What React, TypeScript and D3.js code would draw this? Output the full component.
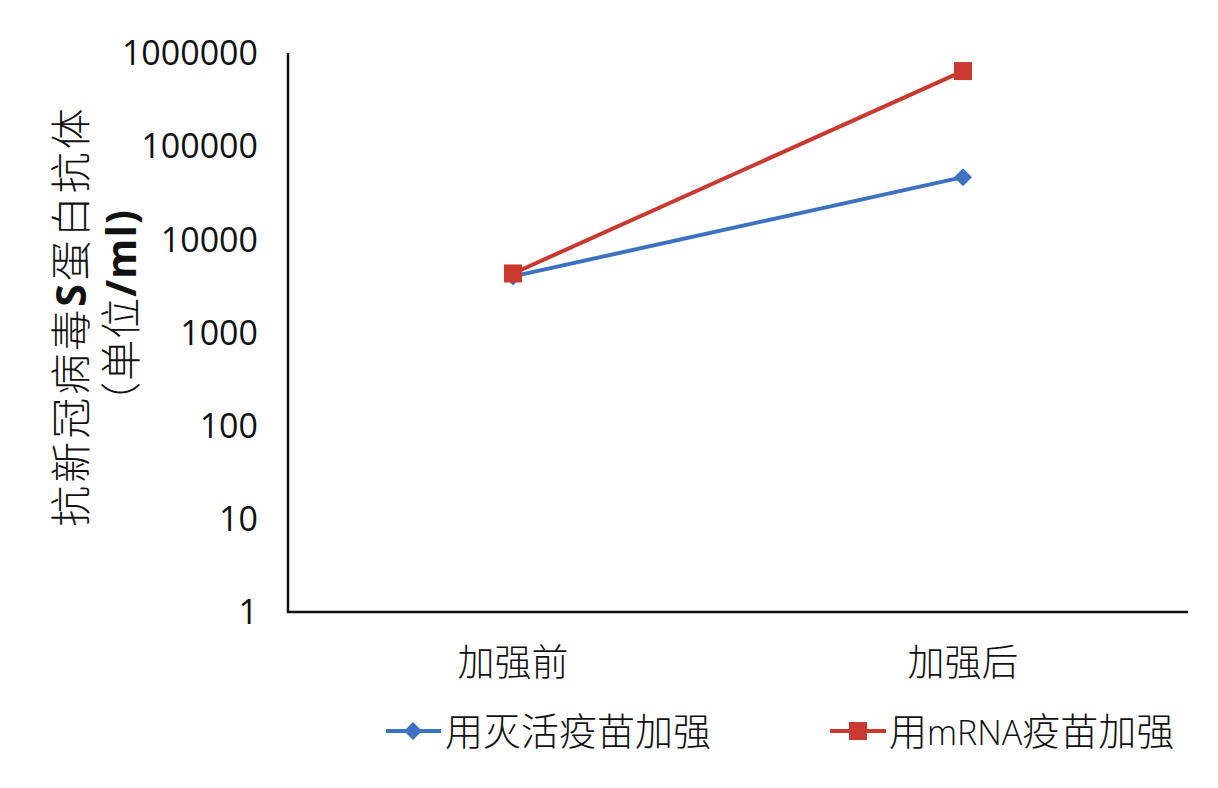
import * as d3 from "d3";

const categories = ["加强前", "加强后"];
const inactivated = [4000, 46500];
const mrna = [4300, 640000];
const yTicks = [1, 10, 100, 1000, 10000, 100000, 1000000];
const seriesNames = ["用灭活疫苗加强", "用mRNA疫苗加强"];

const width = 1218;
const height = 788;
const marginLeft = 288;
const marginRight = 30;
const marginTop = 53;
const marginBottom = 176;

const BLUE = "#3D72C0";
const RED = "#C9392F";
const cjk = "'Noto Sans CJK SC', sans-serif";
const latin = "'Open Sans', 'Noto Sans', sans-serif";

const App = () => {
  const x = d3
    .scaleBand()
    .domain(categories)
    .range([marginLeft, width - marginRight]);

  const y = d3
    .scaleLog()
    .domain([1, 1000000])
    .range([height - marginBottom, marginTop]);

  const line = d3
    .line<number>()
    .x((_, i) => (x(categories[i]) ?? 0) + x.bandwidth() / 2)
    .y((d) => y(d));

  const cx = (i: number) => (x(categories[i]) ?? 0) + x.bandwidth() / 2;
  const y0 = height - marginBottom;
  const titleCy = 316;

  return (
    <svg
      width={width}
      height={height}
      viewBox={`0 0 ${width} ${height}`}
      style={{ position: "absolute", left: 0, top: 0, background: "#fff" }}
    >
      <rect width={width} height={height} fill="#fff" />

      {/* axes */}
      <path
        d={`M${marginLeft},${marginTop}V${y0}H${width - marginRight}`}
        fill="none"
        stroke="#111"
        strokeWidth={2.5}
      />

      {/* y tick labels */}
      <g fontFamily={latin} fontSize={34} fill="#111" textAnchor="end">
        {yTicks.map((t) => (
          <text key={t} x={marginLeft - 30} y={y(t)} dy="0.36em">
            {t}
          </text>
        ))}
      </g>

      {/* category labels */}
      <g fontFamily={cjk} fontWeight={300} fontSize={37} fill="#111" textAnchor="middle">
        {categories.map((c, i) => (
          <text key={c} x={cx(i)} y={676}>
            {c}
          </text>
        ))}
      </g>

      {/* y title */}
      <g fontFamily={cjk} fontWeight={300} fontSize={41} fill="#111" textAnchor="middle">
        <text transform={`translate(86,${titleCy}) rotate(-90)`} letterSpacing={3}>
          抗新冠病毒<tspan fontFamily={latin} fontWeight={700}>S</tspan>蛋白抗体
        </text>
        <text transform={`translate(136,${titleCy}) rotate(-90)`} letterSpacing={1}>
          （单位<tspan fontFamily={latin} fontWeight={700}>/ml)</tspan>
        </text>
      </g>

      {/* series */}
      <path d={line(inactivated) ?? ""} fill="none" stroke={BLUE} strokeWidth={4} />
      {inactivated.map((v, i) => (
        <path
          key={i}
          d={`M${cx(i)},${y(v) - 9}l9,9l-9,9l-9,-9z`}
          fill={BLUE}
        />
      ))}
      <path d={line(mrna) ?? ""} fill="none" stroke={RED} strokeWidth={4} />
      {mrna.map((v, i) => (
        <rect key={i} x={cx(i) - 9} y={y(v) - 9} width={18} height={18} fill={RED} />
      ))}

      {/* legend */}
      <g>
        <line x1={386} x2={441} y1={731} y2={731} stroke={BLUE} strokeWidth={4} />
        <path d={`M413,722l9,9l-9,9l-9,-9z`} fill={BLUE} />
        <text x={445} y={745} fontFamily={cjk} fontWeight={300} fontSize={38} fill="#111">
          {seriesNames[0]}
        </text>
        <line x1={830} x2={886} y1={731} y2={731} stroke={RED} strokeWidth={4} />
        <rect x={849} y={722} width={18} height={18} fill={RED} />
        <text x={889} y={745} fontFamily={cjk} fontWeight={300} fontSize={38} fill="#111">
          用<tspan fontFamily={latin} fontSize={34}>mRNA</tspan>疫苗加强
        </text>
      </g>
    </svg>
  );
};

export default App;
